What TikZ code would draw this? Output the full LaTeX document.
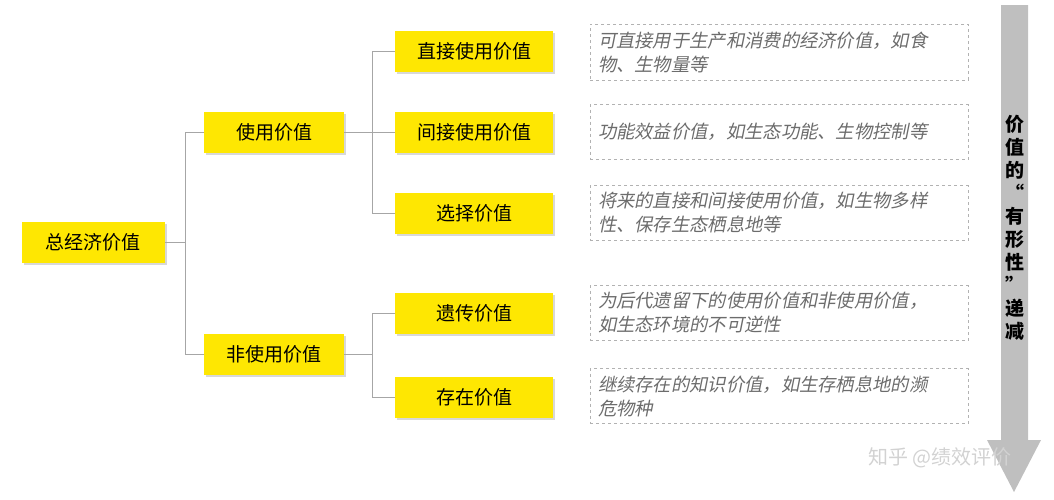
\documentclass[tikz,border=0pt]{standalone}
\usepackage{fontspec}
\setmainfont{Noto Sans CJK SC}
\newfontfamily\descfont[FakeSlant=0.2]{Noto Sans CJK SC}
\usetikzlibrary{shadows}
\begin{document}
\begin{tikzpicture}[x=1pt,y=-1pt,
  yb/.style={fill=yellow!90!orange, minimum width=#1, minimum height=41pt, inner sep=0pt, font=\fontsize{19}{22}\selectfont, drop shadow={shadow xshift=2pt,shadow yshift=-2pt,fill=gray!60}},
  desc/.style={draw=gray!60, dashed, minimum width=378pt, minimum height=55pt, text width=362pt, align=left, font=\fontsize{18.3}{24}\selectfont\descfont, text=gray!85!black},
  ln/.style={draw=gray!70, line width=0.8pt}]
\useasboundingbox (0,0) rectangle (1054,499);
\node[yb=143pt] (t) at (93,242) {总经济价值};
\node[yb=140pt] (u) at (274,132) {使用价值};
\node[yb=140pt] (n) at (274,354) {非使用价值};
\node[yb=158pt] (a) at (474,51) {直接使用价值};
\node[yb=158pt] (b) at (474,132) {间接使用价值};
\node[yb=158pt] (c) at (474,213) {选择价值};
\node[yb=158pt] (d) at (474,313) {遗传价值};
\node[yb=158pt] (e) at (474,397) {存在价值};
\coordinate (j1) at (185,242);
\coordinate (j2) at (372,132);
\coordinate (j3) at (372,354);
\draw[ln] (t.east) -- (j1) (j1|-u) -- (j1|-n) (j1|-u) -- (u.west) (j1|-n) -- (n.west);
\draw[ln] (u.east) -- (j2) (j2|-a) -- (j2|-c) (j2|-a) -- (a.west) (j2) -- (b.west) (j2|-c) -- (c.west);
\draw[ln] (n.east) -- (j3) (j3|-d) -- (j3|-e) (j3|-d) -- (d.west) (j3|-e) -- (e.west);
\node[desc, minimum height=56pt] (da) at (779,52) {可直接用于生产和消费的经济价值，如食\\物、生物量等};
\node[desc] (db) at (779,132) {功能效益价值，如生态功能、生物控制等};
\node[desc] (dc) at (779,213) {将来的直接和间接使用价值，如生物多样\\性、保存生态栖息地等};
\node[desc] (dd) at (779,313) {为后代遗留下的使用价值和非使用价值，\\如生态环境的不可逆性};
\node[desc] (de) at (779,396) {继续存在的知识价值，如生存栖息地的濒\\危物种};
\fill[gray!50] (1001,5) -- (1028,5) -- (1028,440) -- (1041,440) -- (1014,492) -- (987,440) -- (1001,440) -- cycle;
\node[font=\fontsize{19}{23}\selectfont\bfseries, align=center] (v) at (1015,228) {价\\值\\的\\“\\有\\形\\性\\”\\递\\减};
\node[font=\fontsize{20}{22}\selectfont, text=gray!35] (w) at (940,458) {知乎 @绩效评价};
\end{tikzpicture}
\end{document}
